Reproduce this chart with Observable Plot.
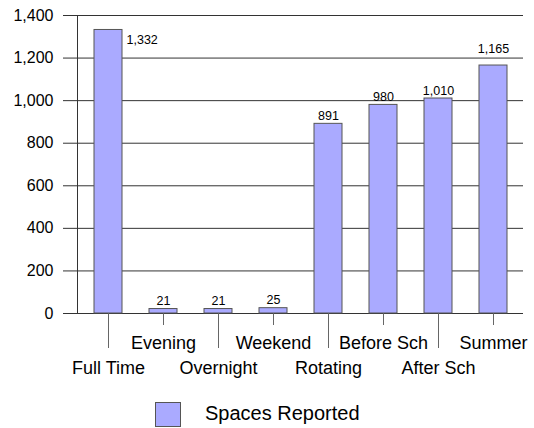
<!DOCTYPE html>
<html>
<head>
<meta charset="utf-8">
<script src="https://cdn.jsdelivr.net/npm/d3@7"></script>
<script src="https://cdn.jsdelivr.net/npm/@observablehq/plot@0.6"></script>
<style>
  html, body { margin: 0; padding: 0; background: #fff; }
  body { width: 534px; height: 428px; overflow: hidden; font-family: "Liberation Sans", Arial, sans-serif; }
  #legend { position: relative; height: 36px; }
  #legend .sw { position: absolute; left: 155px; top: 10px; width: 24px; height: 23px; background: #AAAAFF; border: 1px solid #555; }
  #legend .lb { position: absolute; left: 205px; top: 8px; font-size: 20px; line-height: 26px; color: #000; }
</style>
</head>
<body>
<div id="chart"></div>
<div id="legend"><div class="sw"></div><div class="lb">Spaces Reported</div></div>
<script>
const categories = ["Full Time", "Evening", "Overnight", "Weekend", "Rotating", "Before Sch", "After Sch", "Summer"];
const values = [1332, 21, 21, 25, 891, 980, 1010, 1165];
const yTicks = [0, 200, 400, 600, 800, 1000, 1200, 1400];
const seriesName = "Spaces Reported";

const data = categories.map((c, i) => ({cat: c, value: values[i]}));
const maxVal = d3.max(values);
const longTicks = categories.filter((d, i) => i % 2 === 0);
const shortTicks = categories.filter((d, i) => i % 2 === 1);
const fmt = d3.format(",");

const W = 534, H = 392, mT = 15, mB = 79;
const yScale = Plot.scale({y: {domain: [0, 1400], range: [H - mB, mT]}});
// value labels sit 4px above the bar; if a gridline would cut through the label, lift it above that line
const labelDy = d => {
  const top = yScale.apply(d.value);
  const base = top - 4, capTop = base - 9;
  const hit = yTicks.find(t => { const g = yScale.apply(t); return g > capTop + 1 && g < base - 2; });
  return hit === undefined ? -4 : (yScale.apply(hit) - 5) - top;
};

const chart = Plot.plot({
  width: W,
  height: H,
  marginLeft: 77,
  marginRight: 11,
  marginTop: mT,
  marginBottom: mB,
  style: {fontFamily: "'Liberation Sans', Arial, sans-serif", fontSize: "16px", color: "#000", background: "#fff"},
  x: {domain: categories, paddingInner: 0.5, paddingOuter: 0.25, label: null},
  y: {domain: [0, 1400], label: null},
  marks: [
    Plot.ruleY(yTicks, {stroke: "#333", strokeWidth: 1}),
    Plot.axisY(yTicks, {tickSize: 14, tickPadding: 10, tickFormat: fmt, fontSize: 16, stroke: "#333", label: null}),
    Plot.frame({anchor: "left", stroke: "#333"}),
    Plot.axisX(longTicks, {tickSize: 35, tickPadding: 13, fontSize: 18, stroke: "#666", label: null}),
    Plot.axisX(shortTicks, {tickSize: 12, tickPadding: 11, fontSize: 18, stroke: "#666", label: null}),
    Plot.barY(data, {x: "cat", y: "value", fill: "#AAAAFF", stroke: "#555", strokeWidth: 1}),
    ...data.filter(d => d.value !== maxVal).map(d =>
      Plot.text([d], {x: "cat", y: "value", text: v => fmt(v.value), lineAnchor: "bottom", dy: labelDy(d), fontSize: 12.5, fill: "#000"})
    ),
    Plot.text(data.filter(d => d.value === maxVal), {x: "cat", y: "value", text: d => fmt(d.value), lineAnchor: "top", textAnchor: "start", dx: 18, dy: 5, fontSize: 12.5, fill: "#000"})
  ]
});
document.getElementById("chart").appendChild(chart);
</script>
</body>
</html>
